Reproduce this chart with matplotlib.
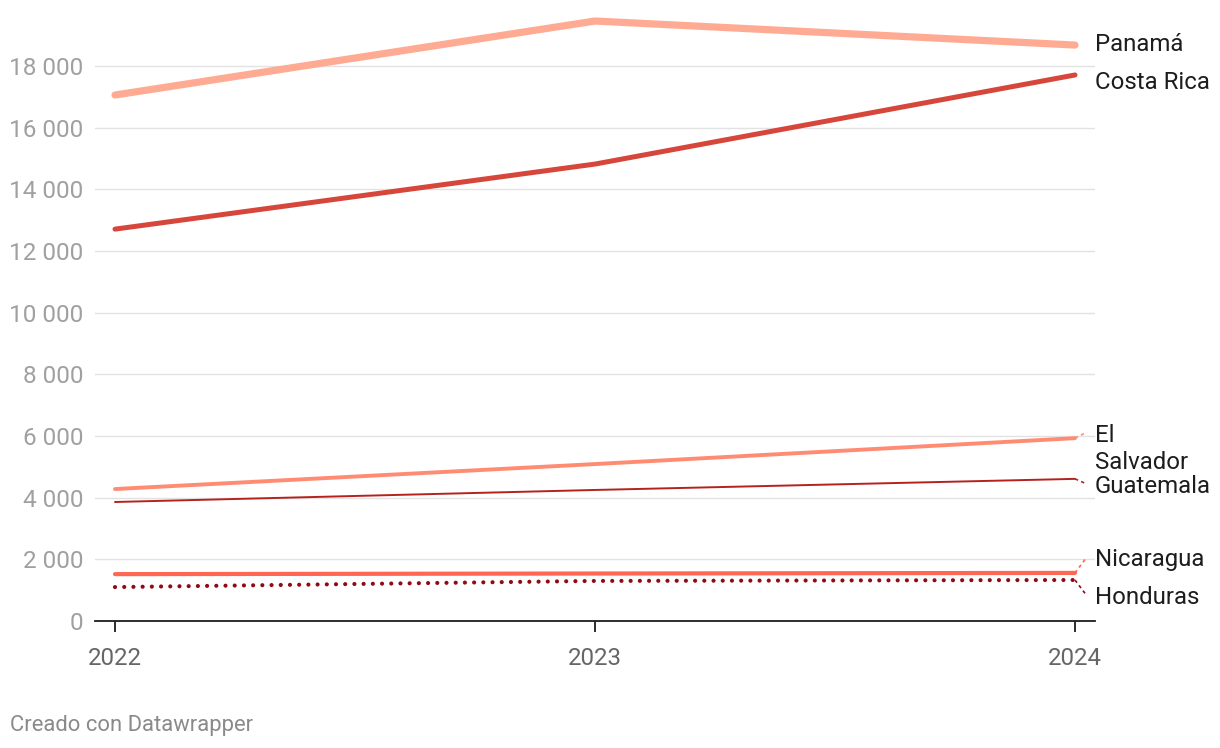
import matplotlib
matplotlib.use("Agg")
import matplotlib.pyplot as plt

plt.rcParams['font.family'] = ['Roboto', 'DejaVu Sans']

years = [2022, 2023, 2024]
panama = [17060, 19460, 18680]
costa_rica = [12710, 14820, 17710]
el_salvador = [4280, 5090, 5930]
guatemala = [3860, 4250, 4610]
nicaragua = [1520, 1540, 1560]
honduras = [1100, 1300, 1330]

yticks = [0, 2000, 4000, 6000, 8000, 10000, 12000, 14000, 16000, 18000]
ytick_labels = ["0", "2 000", "4 000", "6 000", "8 000", "10 000", "12 000", "14 000", "16 000", "18 000"]

series = [
    # name, values, color, lw, style, label_y
    ("Panamá", panama, "#ffab94", 5.2, "-", 18690),
    ("Costa Rica", costa_rica, "#d7463b", 3.6, "-", 17460),
    ("El\nSalvador", el_salvador, "#ff8c72", 2.8, "-", 5580),
    ("Guatemala", guatemala, "#b5221e", 1.4, "-", 4370),
    ("Nicaragua", nicaragua, "#ff6654", 3.0, "-", 2000),
    ("Honduras", honduras, "#900a14", 3.0, (0, (0.01, 2.2)), 750),
]
connectors = {"El\nSalvador": 6130, "Guatemala": 4440, "Nicaragua": 2080, "Honduras": 810}

W, H = 1220, 748
fig = plt.figure(figsize=(W / 100, H / 100), dpi=100)
ax = fig.add_axes([95 / W, 1 - 621 / H, 1000 / W, (621 - 16.7) / H])
ax.set_xlim(2022 - 20 / 480, 2024 + 20 / 480)
ax.set_ylim(0, 19600)

for v in yticks[1:]:
    ax.axhline(v, color="#e2e2e2", lw=1.0, zorder=0)

for name, vals, color, lw, ls, ly in series:
    ax.plot(years, vals, color=color, lw=lw, linestyle=ls, solid_capstyle="round",
            dash_capstyle="round", clip_on=False, zorder=3)
    if name in connectors:
        cy = connectors[name]
        ax.plot([years[-1], 2024 + 12 / 480], [vals[-1], cy], color=color, lw=1.2,
                linestyle=(0, (2, 2)), clip_on=False, zorder=2)
    ax.text(2024 + 20 / 480, ly, name, fontsize=17.3, color="#1d1d1d",
            va="center", ha="left", linespacing=1.25)

for s in ["top", "right", "left"]:
    ax.spines[s].set_visible(False)
ax.spines["bottom"].set_color("#1d1d1d")
ax.spines["bottom"].set_linewidth(1.3)

ax.set_yticks(yticks)
ax.set_yticklabels(ytick_labels)
ax.tick_params(axis="y", length=0, pad=8.6, labelsize=17.5, labelcolor="#a0a0a0")
ax.set_xticks(years)
ax.set_xticklabels([str(y) for y in years])
ax.tick_params(axis="x", length=8, width=1.3, color="#1d1d1d", pad=11, labelsize=17.3,
               labelcolor="#666666")

fig.text(10 / W, 1 - 725 / H, "Creado con Datawrapper", fontsize=15.8, color="#8a8a8a",
         va="center", ha="left")

fig.savefig("out.png", dpi=100, facecolor="white")
